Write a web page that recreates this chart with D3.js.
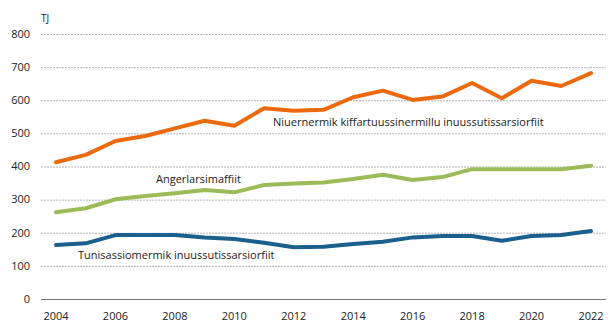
<!DOCTYPE html>
<html>
<head>
<meta charset="utf-8">
<script src="https://cdn.jsdelivr.net/npm/d3@7"></script>
<style>
  body { margin: 0; background: #fff; }
  svg text { font-family: "Open Sans", "DejaVu Sans", sans-serif; fill: #222; }
</style>
</head>
<body>
<div id="chart"></div>
<script>
// yearly values, TJ
const years = d3.range(2004, 2023);
const commerce = [413, 435, 477, 492, 515, 538, 523, 576, 568, 571, 609, 629, 601, 611, 652, 606, 659, 643, 682];
const households = [262, 274, 301, 311, 319, 329, 322, 344, 349, 352, 362, 375, 359, 368, 392, 392, 392, 392, 402];
const production = [163, 168, 193, 193, 193, 186, 181, 170, 156, 158, 166, 173, 186, 190, 190, 176, 190, 193, 205];

const yTicks = [0, 100, 200, 300, 400, 500, 600, 700, 800];
const xTicks = [2004, 2006, 2008, 2010, 2012, 2014, 2016, 2018, 2020, 2022];

const series = [
  {name: "Niuernermik kiffartuussinermillu inuussutissarsiorfiit", values: commerce, color: "#EC6A0E", lx: 273, ly: 122},
  {name: "Angerlarsimaffiit", values: households, color: "#9BBB59", lx: 156, ly: 179},
  {name: "Tunisassiomermik inuussutissarsiorfiit", values: production, color: "#1B5F8C", lx: 78, ly: 255}
];

const W = 613, H = 327;
const svg = d3.select("#chart").append("svg")
  .attr("width", W)
  .attr("height", H);

const x = d3.scaleLinear().domain([2004, 2022]).range([56, 591]);
const y = d3.scaleLinear().domain([0, 800]).range([299, 34]);

// grid lines
svg.append("g")
  .selectAll("line")
  .data(yTicks)
  .enter().append("line")
  .attr("x1", 41)
  .attr("x2", 606)
  .attr("y1", d => y(d) + 0.5)
  .attr("y2", d => y(d) + 0.5)
  .attr("stroke", d => d === 0 ? "#7a7a7a" : "#b4b4b4")
  .attr("stroke-width", 1)
  .attr("stroke-dasharray", d => d === 0 ? null : "2,1");

// y axis labels
svg.append("g")
  .selectAll("text")
  .data(yTicks)
  .enter().append("text")
  .attr("x", 30)
  .attr("y", d => y(d))
  .attr("dy", "0.35em")
  .attr("text-anchor", "end")
  .style("font-size", "11px")
  .text(d => d);

svg.append("text")
  .attr("x", 41)
  .attr("y", 22)
  .style("font-size", "10px")
  .text("TJ");

// x axis labels
svg.append("g")
  .selectAll("text")
  .data(xTicks)
  .enter().append("text")
  .attr("x", d => x(d))
  .attr("y", 316)
  .attr("dy", "0.35em")
  .attr("text-anchor", "middle")
  .style("font-size", "11px")
  .text(d => d);

const line = d3.line()
  .x((d, i) => x(years[i]))
  .y(d => y(d));

svg.append("g")
  .selectAll("path")
  .data(series)
  .enter().append("path")
  .attr("d", d => line(d.values))
  .attr("fill", "none")
  .attr("stroke", d => d.color)
  .attr("stroke-width", 4)
  .attr("stroke-linejoin", "round")
  .attr("stroke-linecap", "round");

// series labels
svg.append("g")
  .selectAll("text")
  .data(series)
  .enter().append("text")
  .attr("x", d => d.lx)
  .attr("y", d => d.ly)
  .attr("dy", "0.35em")
  .style("font-size", "11px")
  .text(d => d.name);
</script>
</body>
</html>
